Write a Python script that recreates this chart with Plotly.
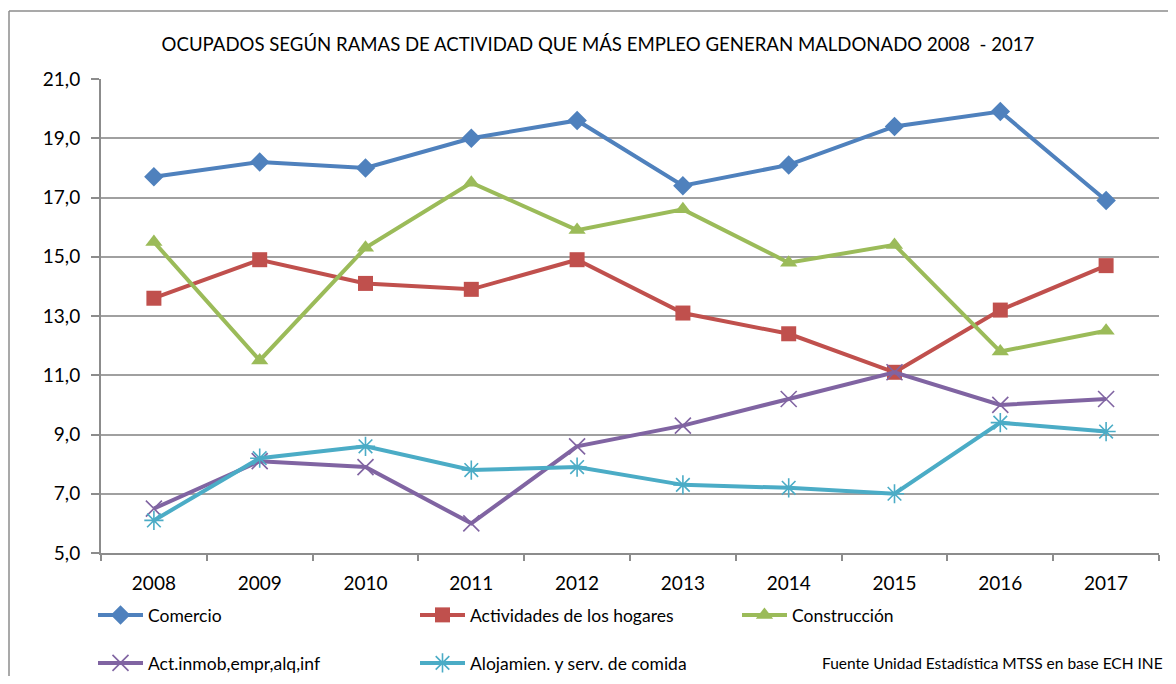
import plotly.graph_objects as go

years = ["2008", "2009", "2010", "2011", "2012", "2013", "2014", "2015", "2016", "2017"]
comercio = [17.7, 18.2, 18.0, 19.0, 19.6, 17.4, 18.1, 19.4, 19.9, 16.9]
hogares = [13.6, 14.9, 14.1, 13.9, 14.9, 13.1, 12.4, 11.1, 13.2, 14.7]
construccion = [15.5, 11.5, 15.3, 17.5, 15.9, 16.6, 14.8, 15.4, 11.8, 12.5]
inmob = [6.5, 8.1, 7.9, 6.0, 8.6, 9.3, 10.2, 11.1, 10.0, 10.2]
alojamiento = [6.1, 8.2, 8.6, 7.8, 7.9, 7.3, 7.2, 7.0, 9.4, 9.1]

names = ["Comercio", "Actividades de los hogares", "Construcción",
         "Act.inmob,empr,alq,inf", "Alojamien. y serv. de comida"]
colors = ["#4F81BD", "#C0504D", "#9BBB59", "#8064A2", "#4BACC6"]
symbols = ["diamond", "square", "triangle-up", "x-thin-open", "asterisk-open"]
sizes = [15, 15, 15, 16, 16]
series = [comercio, hogares, construccion, inmob, alojamiento]

FONT = "Lato"

# page body has an 8px margin: the figure sits at (8, 8) on screen
OFF = 8
W, H = 1176 - OFF * 2, 684 - OFF * 2
PL, PR, PT, PB = 101, 1159, 79, 553  # plot area in screen px
ml, mt = PL - OFF, PT - OFF
pw, ph = PR - PL, PB - PT
mr = W - ml - pw
mb = H - mt - ph


def px(x):
    return (x - PL) / pw


def py(y):
    return (PB - y) / ph


# legend entry positions (screen px of text start, row centre)
leg_pos = [(148, 615), (470, 615), (792, 615), (148, 663), (470, 663)]
leg_ids = ["legend", "legend2", "legend3", "legend4", "legend5"]

fig = go.Figure()
for name, vals, col, sym, sz, lg in zip(names, series, colors, symbols, sizes, leg_ids):
    mk = dict(symbol=sym, size=sz, color=col)
    if sym.endswith("open"):
        mk["line"] = dict(color=col, width=1.6)
    else:
        mk["line"] = dict(width=0)
    fig.add_trace(go.Scatter(x=years, y=vals, name=name, mode="lines+markers",
                             line=dict(color=col, width=4), marker=mk, legend=lg))

layout_legends = {}
for lg, (tx, ty) in zip(leg_ids, leg_pos):
    layout_legends[lg] = dict(x=px(tx - 55), xanchor="left", y=py(ty), yanchor="middle",
                              itemwidth=45, font=dict(family=FONT, size=17.5, color="#000000"),
                              bgcolor="rgba(0,0,0,0)")

fig.update_layout(
    width=W, height=H,
    margin=dict(l=ml, r=mr, t=mt, b=mb, pad=0, autoexpand=False),
    paper_bgcolor="white", plot_bgcolor="white",
    separators=", ",
    font=dict(family=FONT, size=16, color="#000000"),
    title=dict(text="OCUPADOS SEGÚN RAMAS DE ACTIVIDAD QUE MÁS EMPLEO GENERAN MALDONADO 2008  - 2017",
               x=(598 - OFF) / W, xanchor="center", y=1 - (44 - OFF) / H, yanchor="middle",
               font=dict(family=FONT, size=18.6, color="#000000")),
    showlegend=True,
    xaxis=dict(type="category", showgrid=False, showline=True, linecolor="#8C8C8C", linewidth=2,
               ticks="outside", tickson="boundaries", ticklen=6, tickcolor="#8C8C8C", tickwidth=2,
               ticklabelstandoff=12,
               tickfont=dict(family=FONT, size=19), range=[-0.5, 9.5]),
    yaxis=dict(range=[5, 21], dtick=2, tick0=5, tickformat=".1f", showgrid=True,
               gridcolor="#A0A0A0", gridwidth=2, showline=True, linecolor="#8C8C8C", linewidth=2,
               ticks="outside", ticklen=8, tickcolor="#8C8C8C", tickwidth=2,
               ticklabelstandoff=7,
               tickfont=dict(family=FONT, size=19), zeroline=False),
    **layout_legends,
)

fig.add_annotation(text="Fuente Unidad Estadística MTSS en base ECH INE",
                   xref="paper", yref="paper", x=px(1165), y=py(663),
                   xanchor="right", yanchor="middle", showarrow=False,
                   font=dict(family=FONT, size=15.5, color="#000000"))

fig.add_shape(type="line", xref="paper", yref="paper",
              x0=px(9), x1=px(9), y0=py(11), y1=py(700),
              line=dict(color="#8C8C8C", width=1.5))
fig.add_shape(type="line", xref="paper", yref="paper",
              x0=px(9), x1=px(1200), y0=py(11), y1=py(11),
              line=dict(color="#8C8C8C", width=1.5))

fig.write_html("out.html")
